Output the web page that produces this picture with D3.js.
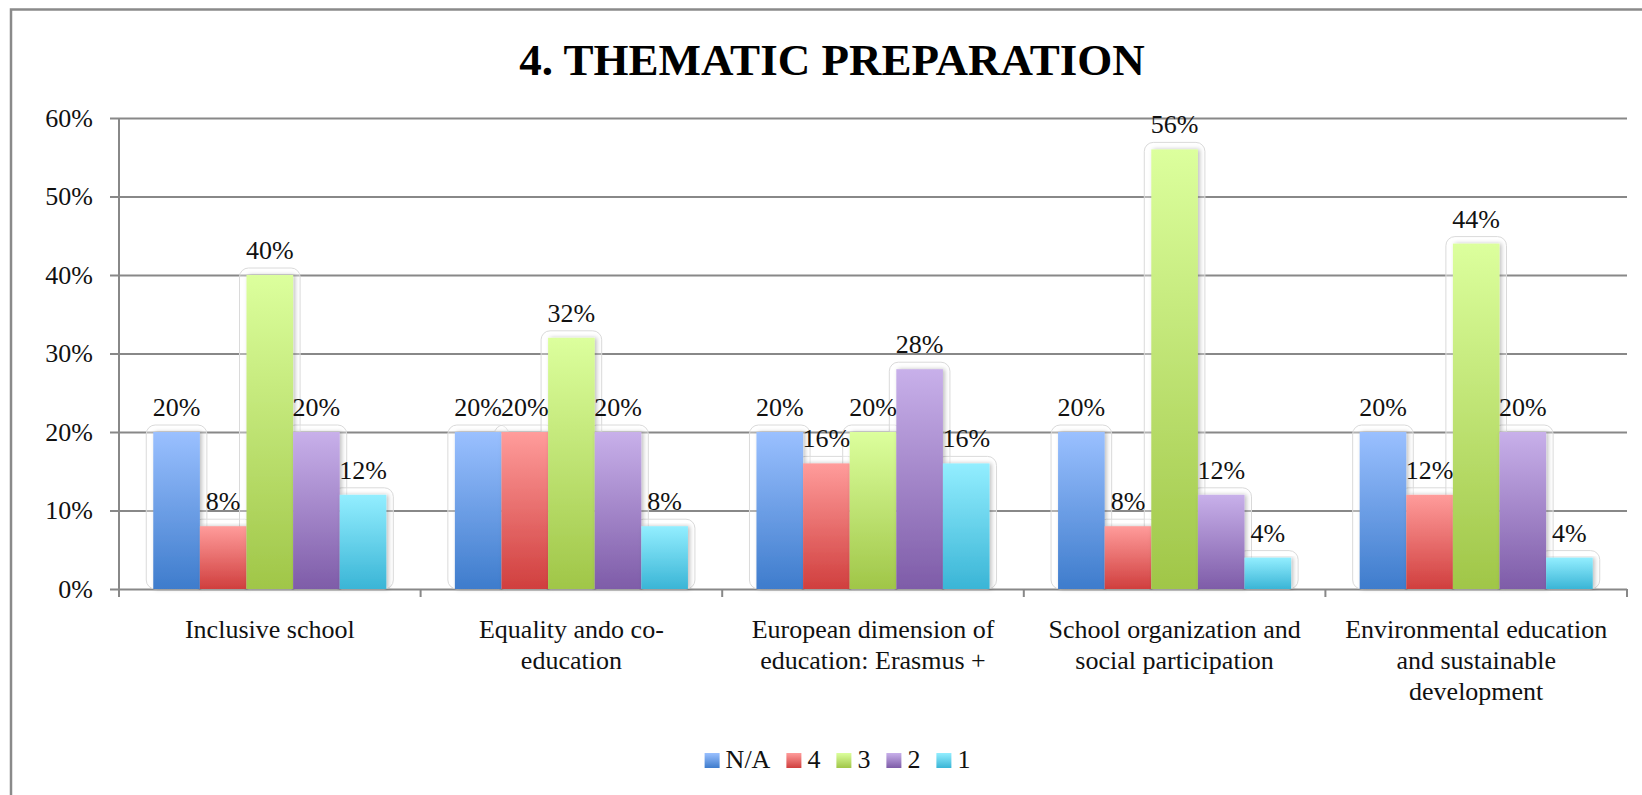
<!DOCTYPE html>
<html><head><meta charset="utf-8">
<script src="https://cdn.jsdelivr.net/npm/d3@7"></script>
<style>
body{margin:0;background:#fff}
svg{display:block}
svg text{font-family:"Liberation Serif","Times New Roman",serif !important;fill:#111}
</style>
</head><body>
<svg id="c" width="1642" height="795"></svg>
<script>
// ---- data ----
const title = "4. THEMATIC PREPARATION";
const categories = ["Inclusive school","Equality ando co-education","European dimension of education: Erasmus +","School organization and social participation","Environmental education and sustainable development"];
const categoryLines = [["Inclusive school"],["Equality ando co-","education"],["European dimension of","education: Erasmus +"],["School organization and","social participation"],["Environmental education","and sustainable","development"]];
const series = ["N/A","4","3","2","1"];
const valuesNA = [20,20,20,20,20];
const values4  = [8,20,16,8,12];
const values3  = [40,32,20,56,44];
const values2  = [20,20,28,12,20];
const values1  = [12,8,16,4,4];
const yTicks = [0,10,20,30,40,50,60];
const seriesValues = [valuesNA, values4, values3, values2, values1];
const gradTop = ["#9ac0ff","#ff9c9b","#dcff9d","#c8b0ea","#93eeff"];
const gradBot = ["#3e7ccc","#d03f3e","#a0c648","#7e5ca8","#3ab5d6"];

// ---- layout ----
const svg = d3.select("#c");
const L = 119, R = 1627, T = 118, B = 589;
const x0 = d3.scaleBand().domain(categories).range([L,R]).paddingInner(0).paddingOuter(0);
const x1 = d3.scaleBand().domain(series).range([0,x0.bandwidth()]).paddingInner(0).paddingOuter(0.735);
const y = d3.scaleLinear().domain([0,60]).range([B,T]);

const defs = svg.append("defs");
series.forEach((s,i)=>{
  const g = defs.append("linearGradient").attr("id","g"+i).attr("x1",0).attr("y1",0).attr("x2",0).attr("y2",1);
  g.append("stop").attr("offset","0%").attr("stop-color",gradTop[i]);
  g.append("stop").attr("offset","100%").attr("stop-color",gradBot[i]);
});
const f = defs.append("filter").attr("id","sh").attr("x","-20%").attr("y","-5%").attr("width","140%").attr("height","110%");
f.append("feDropShadow").attr("dx",2).attr("dy",0).attr("stdDeviation",2).attr("flood-color","#000").attr("flood-opacity",0.25);

// outer border
svg.append("rect").attr("x",11).attr("y",9.5).attr("width",1700).attr("height",900)
  .attr("fill","none").attr("stroke","#8a8a8a").attr("stroke-width",2.5);

// title
svg.append("text").attr("x",832).attr("y",75).attr("text-anchor","middle")
  .style("font-size","45px").style("font-weight","bold").style("fill","#000").text(title);

// y axis with gridlines
const yAxis = svg.append("g").attr("transform",`translate(${L},0)`)
  .call(d3.axisLeft(y).tickValues(yTicks).tickSize(9).tickPadding(17).tickFormat(d=>d+"%"));
yAxis.select(".domain").remove();
yAxis.selectAll(".tick line").attr("x1",R-L).attr("stroke","#888").attr("stroke-width",2);
yAxis.selectAll(".tick text").style("font-size","26px").attr("fill","#111");
svg.append("line").attr("x1",L).attr("x2",L).attr("y1",T).attr("y2",B).attr("stroke","#888").attr("stroke-width",2);

// category boundary ticks
const bounds = categories.map(c=>x0(c)).concat([x0(categories[categories.length-1])+x0.bandwidth()]);
svg.selectAll(".ctick").data(bounds).enter().append("line")
  .attr("x1",d=>d).attr("x2",d=>d).attr("y1",B).attr("y2",B+8).attr("stroke","#888").attr("stroke-width",2);

// bars data
const barData = [];
seriesValues.forEach((vals,si)=>vals.forEach((v,ci)=>barData.push({si,ci,v})));

// outlines behind bars
const bw = x1.bandwidth();
svg.append("g").selectAll("rect").data(barData).enter().append("rect")
  .attr("x",d=>x0(categories[d.ci])+x1(series[d.si])-7)
  .attr("y",d=>y(d.v)-7)
  .attr("width",bw+14).attr("height",d=>B-y(d.v)+7)
  .attr("rx",9).attr("fill","rgba(255,255,255,0.35)").attr("stroke","#dadada").attr("stroke-width",1);

// bars
svg.append("g").selectAll("rect").data(barData).enter().append("rect")
  .attr("x",d=>x0(categories[d.ci])+x1(series[d.si]))
  .attr("y",d=>y(d.v))
  .attr("width",bw).attr("height",d=>B-y(d.v))
  .attr("fill",d=>`url(#g${d.si})`).attr("filter","url(#sh)");

// data labels
svg.append("g").selectAll("text").data(barData).enter().append("text")
  .attr("x",d=>x0(categories[d.ci])+x1(series[d.si])+bw/2)
  .attr("y",d=>y(d.v)-16)
  .attr("text-anchor","middle").style("font-size","26px")
  .text(d=>d.v+"%");

// category labels
const cl = svg.append("g").selectAll("text").data(categories).enter().append("text")
  .attr("text-anchor","middle").style("font-size","26px")
  .attr("x",d=>x0(d)+x0.bandwidth()/2).attr("y",638);
cl.each(function(d,i){
  d3.select(this).selectAll("tspan").data(categoryLines[i]).enter().append("tspan")
    .attr("x",x0(d)+x0.bandwidth()/2).attr("dy",(t,j)=>j===0?0:31).text(t=>t);
});

// legend
const leg = svg.append("g");
const items = leg.selectAll("g").data(series).enter().append("g");
items.append("rect").attr("width",15).attr("height",15).attr("y",753).attr("fill",(d,i)=>`url(#g${i})`);
items.append("text").attr("x",21).attr("y",768).style("font-size","26px").text(d=>d);
let cx = 0; const pos = [];
items.each(function(){ pos.push(cx); const w = d3.select(this).select("text").node().getComputedTextLength(); cx += 21 + w + 16; });
const total = cx - 16;
const start = 837.5 - total/2;
items.attr("transform",(d,i)=>`translate(${start+pos[i]},0)`);
</script>
</body></html>
